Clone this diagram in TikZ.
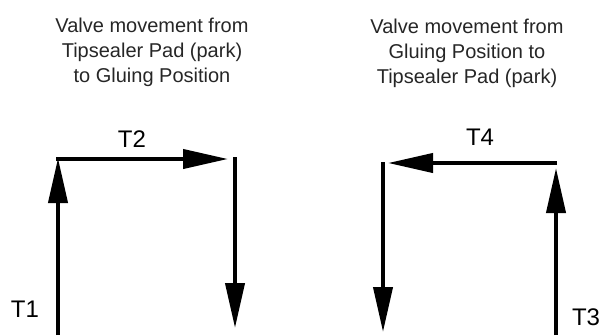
\documentclass[tikz,border=0pt]{standalone}
\usepackage{fontspec}
\setmainfont{Liberation Sans}
\usetikzlibrary{arrows.meta}
\tikzset{
  move/.style={line width=4pt,-{Triangle[length=45pt,width=19pt]}},
  title/.style={align=center,inner sep=0pt,anchor=base,font=\fontsize{20}{25}\selectfont,text=black!85},
  tlabel/.style={inner sep=0pt,font=\fontsize{24}{28}\selectfont}
}
\begin{document}
\begin{tikzpicture}[x=1pt,y=-1pt]
\useasboundingbox (0,0) rectangle (601,335);
% titles (base anchor = baseline of last line)
\node[title] (titleL) at (152,82) {Valve movement from\\Tipsealer Pad (park)\\to Gluing Position};
\node[title] (titleR) at (467,83) {Valve movement from\\Gluing Position to\\Tipsealer Pad (park)};
% left group coordinates
\coordinate (l1s) at (58,335);
\coordinate (l1e) at (58,158);
\coordinate (l2s) at (56,159);
\coordinate (l2e) at (228,159);
\coordinate (l3s) at (235,157);
\coordinate (l3e) at (235,328);
% right group coordinates
\coordinate (r3s) at (556,335);
\coordinate (r3e) at (556,168);
\coordinate (r4s) at (557,163);
\coordinate (r4e) at (388,163);
\coordinate (r5s) at (383,162);
\coordinate (r5e) at (383,332);
\draw[move] (l1s) -- (l1e);
\draw[move] (l2s) -- (l2e);
\draw[move] (l3s) -- (l3e);
\draw[move] (r3s) -- (r3e);
\draw[move] (r4s) -- (r4e);
\draw[move] (r5s) -- (r5e);
% labels
\node[tlabel] (T1) at (25,309) {T1};
\node[tlabel] (T2) at (132,139) {T2};
\node[tlabel] (T3) at (586,317) {T3};
\node[tlabel] (T4) at (480,137) {T4};
\end{tikzpicture}
\end{document}
